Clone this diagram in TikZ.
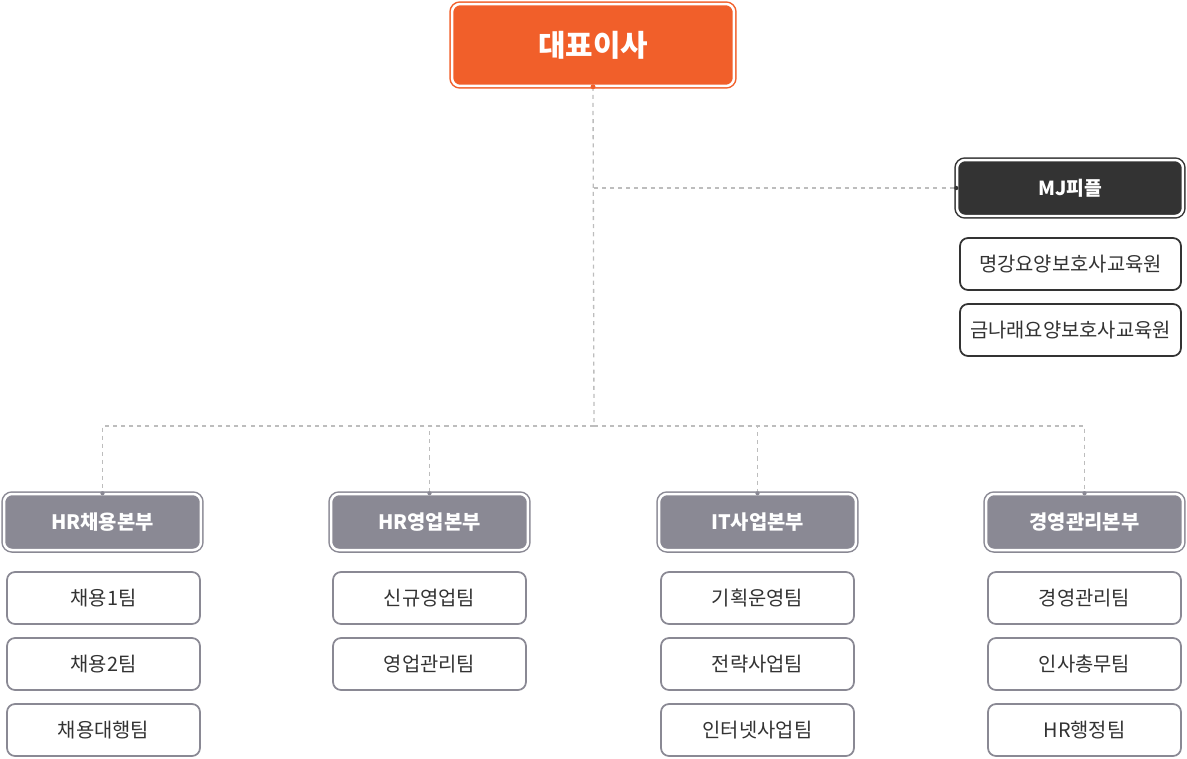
\documentclass[tikz,border=0pt]{standalone}
\usepackage{fontspec}
\setmainfont{Noto Sans CJK KR}
\usepackage{xcolor}
\usepackage{tikz}
\usetikzlibrary{positioning}

\definecolor{ceoorange}{HTML}{F15F2A}
\definecolor{mjdark}{HTML}{333333}
\definecolor{divgray}{HTML}{8A8994}
\definecolor{linegray}{HTML}{BDBDBD}
\definecolor{textdark}{HTML}{333333}

\begin{document}
\begin{tikzpicture}[
    x=0.02cm, y=-0.02cm,
    every node/.style={rectangle, rounded corners=0.16cm, inner sep=0pt},
    ceo/.style={draw=ceoorange, fill=ceoorange, double=white, double distance=0.05cm,
                line width=0.03cm, minimum width=5.64cm, minimum height=1.64cm,
                text=white, font=\fontsize{17}{20}\selectfont\bfseries},
    mjbox/.style={draw=mjdark, fill=mjdark, double=white, double distance=0.05cm,
                line width=0.03cm, minimum width=4.52cm, minimum height=1.12cm,
                text=white, font=\fontsize{11}{13}\selectfont\bfseries},
    academy/.style={draw=mjdark, fill=white, line width=0.035cm,
                minimum width=4.42cm, minimum height=1.04cm,
                text=textdark, font=\fontsize{11.3}{13}\selectfont},
    division/.style={draw=divgray, fill=divgray, double=white, double distance=0.05cm,
                line width=0.03cm, minimum width=3.94cm, minimum height=1.12cm,
                text=white, font=\fontsize{11.3}{13}\selectfont\bfseries},
    team/.style={draw=divgray, fill=white, line width=0.035cm,
                minimum width=3.86cm, minimum height=1.04cm,
                text=textdark, font=\fontsize{11.3}{13}\selectfont},
    link/.style={draw=linegray, line width=0.75pt, dash pattern=on 2.3pt off 2.3pt},
  ]
  \useasboundingbox (0,0) rectangle (1187,758);

  % top
  \node[ceo] (ceo) at (593, 45) {대표이사};
  \node[mjbox] (mj) at (1070, 188) {MJ피플};
  \node[academy] (mjedu1) at (1070.5, 264) {명강요양보호사교육원};
  \node[academy] (mjedu2) at (1070.5, 330) {금나래요양보호사교육원};

  % divisions
  \node[division] (hrrec) at (102.5, 522) {HR채용본부};
  \node[division] (hrsal) at (429.5, 522) {HR영업본부};
  \node[division] (itbiz) at (757.5, 522) {IT사업본부};
  \node[division] (mgmt)  at (1084.5, 522) {경영관리본부};

  % teams
  \node[team] (rec1)  at (103.5, 598) {채용1팀};
  \node[team] (rec2)  at (103.5, 664) {채용2팀};
  \node[team] (rec3)  at (103.5, 730) {채용대행팀};
  \node[team] (sal1)  at (429.5, 598) {신규영업팀};
  \node[team] (sal2)  at (429.5, 664) {영업관리팀};
  \node[team] (it1)   at (757.5, 598) {기획운영팀};
  \node[team] (it2)   at (757.5, 664) {전략사업팀};
  \node[team] (it3)   at (757.5, 730) {인터넷사업팀};
  \node[team] (mg1)   at (1084.5, 598) {경영관리팀};
  \node[team] (mg2)   at (1084.5, 664) {인사총무팀};
  \node[team] (mg3)   at (1084.5, 730) {HR행정팀};

  \coordinate (mjjoin) at (594, 188);
  \coordinate (bus) at (594, 426);

  \draw[link] (ceo.south) -- (bus);
  \draw[link] (mjjoin) -- (mj.west);
  \draw[link] (bus) -| (hrrec.north);
  \draw[link] (bus) -| (hrsal.north);
  \draw[link] (bus) -| (itbiz.north);
  \draw[link] (bus) -| (mgmt.north);

  \fill[ceoorange] (ceo.south) circle (1.4pt);
  \fill[mjdark] (mj.west) circle (1.2pt);
  \foreach \n in {hrrec.north, hrsal.north, itbiz.north, mgmt.north}
    \fill[divgray] (\n) circle (1.2pt);
\end{tikzpicture}
\end{document}
